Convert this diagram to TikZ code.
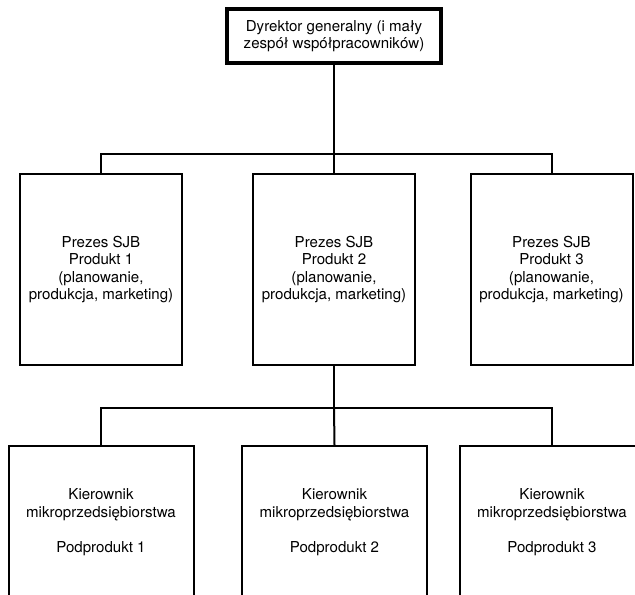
\documentclass[tikz,border=0pt]{standalone}
\usepackage{fontspec}
\setmainfont{TeX Gyre Heros}
\usepackage{tikz}

\tikzset{
  chief/.style={draw, line width=3pt, align=center, inner sep=0.75pt,
    minimum width=161pt, minimum height=40.5pt},
  prezes/.style={draw, line width=1.5pt, align=center, inner sep=0.75pt,
    minimum width=121.5pt, minimum height=143.25pt},
  kier/.style={draw, line width=1.5pt, align=center, inner sep=0.75pt,
    minimum width=138.75pt, minimum height=114pt},
  link/.style={line width=1.5pt}
}

\begin{document}
\begin{tikzpicture}[x=0.75pt,y=0.75pt,yscale=-1,xscale=1,
  every node/.append style={font=\fontsize{11.3pt}{13.1pt}\selectfont}]
%set diagram left start at 0, and has height of 595
\clip (0,0) rectangle (635,595);

%Shape: Rectangle [id:top]
\node [chief] (dg) at (334,36) {Dyrektor generalny (i mały\\zespół współpracowników)};

%Shape: Rectangle [id:middle row]
\node [prezes] (p1) at (101,269.5) {Prezes SJB\\Produkt 1\\(planowanie,\\produkcja, marketing)};
\node [prezes] (p2) at (334,269.5) {Prezes SJB\\Produkt 2\\(planowanie,\\produkcja, marketing)};
\node [prezes] (p3) at (551.5,269.5) {Prezes SJB\\Produkt 3\\(planowanie,\\produkcja, marketing)};

%Shape: Rectangle [id:bottom row, open below]
\node [kier] (k1) at (101,522) {Kierownik\\mikroprzedsiębiorstwa\\[13.1pt]Podprodukt 1};
\node [kier] (k2) at (334.5,522) {Kierownik\\mikroprzedsiębiorstwa\\[13.1pt]Podprodukt 2};
\node [kier] (k3) at (552,522) {Kierownik\\mikroprzedsiębiorstwa\\[13.1pt]Podprodukt 3};

%Straight Lines [id:upper bus]
\coordinate (bus1) at (334,154);
\draw [link] (dg.south) -- (bus1);
\draw [link] (p1.north) |- (bus1) -| (p3.north);
\draw [link] (bus1) -- (p2.north);

%Straight Lines [id:lower bus]
\coordinate (bus2) at (334,408);
\draw [link] (p2.south) -- (bus2);
\draw [link] (k1.north) |- (bus2) -| (k3.north);
\draw [link] (bus2) -- (k2.north);

\end{tikzpicture}
\end{document}
